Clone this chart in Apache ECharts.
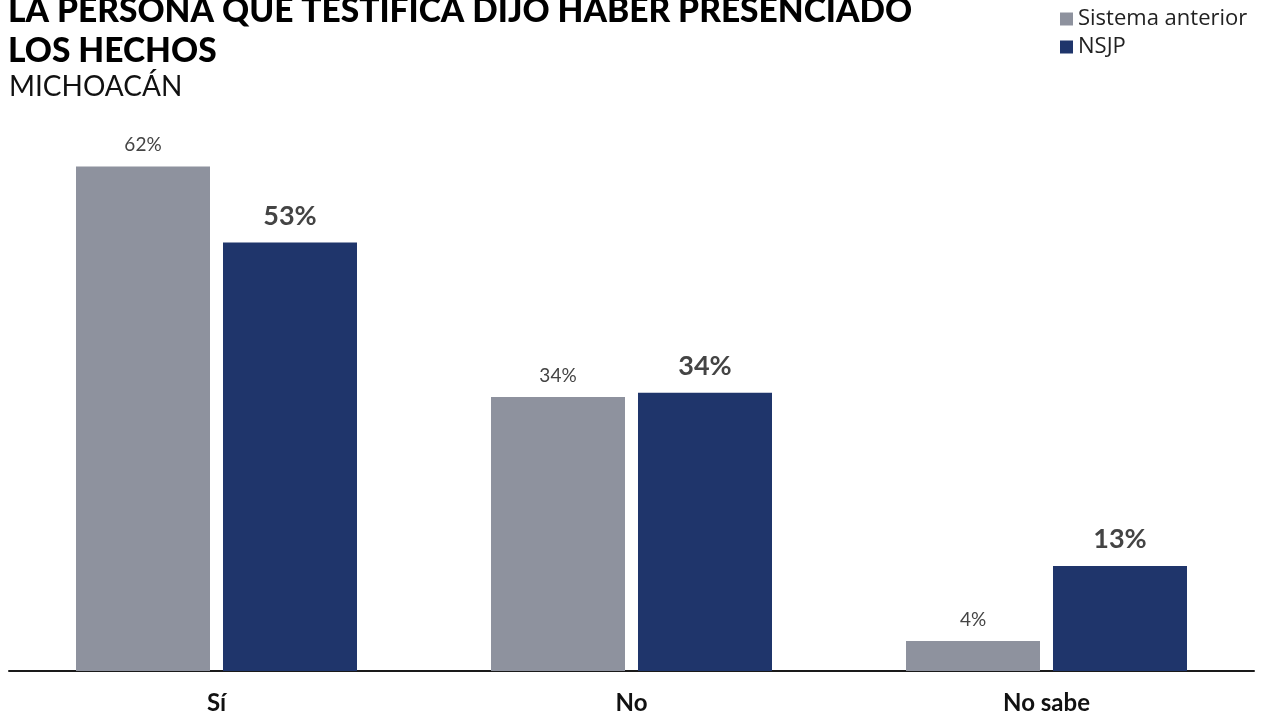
<!DOCTYPE html>
<html>
<head>
<meta charset="utf-8">
<script src="https://cdn.jsdelivr.net/npm/echarts@6/dist/echarts.min.js"></script>
<style>
html,body{margin:0;padding:0;background:#fff;}
#chart{width:1266px;height:716px;}
</style>
</head>
<body>
<div id="chart"></div>
<script>
const categories = ['Sí', 'No', 'No sabe'];
const seriesNames = ['Sistema anterior', 'NSJP'];
const sistemaAnterior = [62.4, 33.9, 3.7];
const nsjp = [53.0, 34.4, 13.0];
const titleText = 'LA PERSONA QUE TESTIFICA DIJO HABER PRESENCIADO\nLOS HECHOS';
const subtitleText = 'MICHOACÁN';

const chart = echarts.init(document.getElementById('chart'));
const pct = p => Math.round(p.value) + '%';
chart.setOption({
  animation: false,
  backgroundColor: '#ffffff',
  title: [
    {
      text: titleText, left: 8, top: -9, padding: 0,
      textStyle: {fontFamily: 'Lato', fontWeight: 900, fontSize: 33.5, lineHeight: 40, color: '#000'}
    },
    {
      text: subtitleText, left: 9, top: 72, padding: 0,
      textStyle: {fontFamily: 'Lato', fontWeight: 'normal', fontSize: 28, lineHeight: 30, color: '#111'}
    }
  ],
  legend: {
    orient: 'vertical', left: 1060, top: 8, padding: 0,
    itemWidth: 13, itemHeight: 13, itemGap: 6, itemStyle: {borderWidth: 0},
    icon: 'rect',
    textStyle: {fontFamily: 'Open Sans', fontSize: 22, color: '#222'},
    data: seriesNames
  },
  grid: {left: 9, right: 12, top: 105, bottom: 45, containLabel: false},
  xAxis: {
    type: 'category', data: categories,
    axisLine: {lineStyle: {color: '#1a1a1a', width: 2}},
    axisTick: {show: false},
    axisLabel: {fontFamily: 'Lato', fontWeight: 'bold', fontSize: 24, color: '#111', margin: 20}
  },
  yAxis: {type: 'value', min: 0, max: 70, show: false, splitLine: {show: false}},
  series: [
    {
      name: seriesNames[0], type: 'bar', data: sistemaAnterior,
      barWidth: 134, barGap: '9.7%',
      itemStyle: {color: '#8e929e'},
      label: {show: true, position: 'top', distance: 12, formatter: pct,
        fontFamily: 'Lato', fontSize: 19, color: '#444'}
    },
    {
      name: seriesNames[1], type: 'bar', data: nsjp,
      barWidth: 134, barGap: '9.7%',
      itemStyle: {color: '#1f356b'},
      label: {show: true, position: 'top', distance: 13, formatter: pct,
        fontFamily: 'Lato', fontWeight: 'bold', fontSize: 27, color: '#444'}
    }
  ]
});
</script>
</body>
</html>
